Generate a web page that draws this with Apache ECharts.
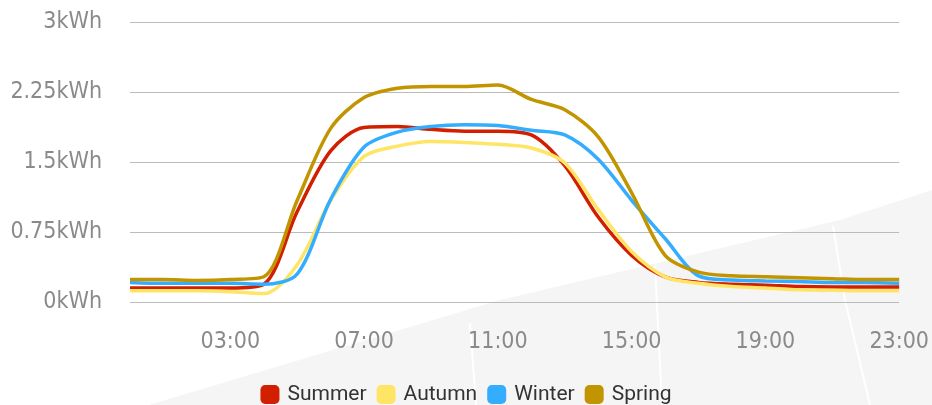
<!DOCTYPE html>
<html>
<head>
<meta charset="utf-8">
<script src="https://cdn.jsdelivr.net/npm/echarts@6/dist/echarts.min.js"></script>
<style>
  html, body { margin: 0; padding: 0; background: #ffffff; }
  #chart { width: 932px; height: 405px; }
</style>
</head>
<body>
<div id="chart"></div>
<script>
var hours = ['00:00','01:00','02:00','03:00','04:00','05:00','06:00','07:00','08:00','09:00','10:00','11:00',
             '12:00','13:00','14:00','15:00','16:00','17:00','18:00','19:00','20:00','21:00','22:00','23:00'];
var summer = [0.15,0.15,0.15,0.15,0.19,0.97,1.62,1.87,1.88,1.85,1.83,1.83,1.79,1.46,0.91,0.50,0.27,0.21,0.19,0.18,0.165,0.16,0.16,0.16];
var autumn = [0.12,0.12,0.12,0.11,0.09,0.40,1.09,1.56,1.67,1.72,1.71,1.69,1.65,1.49,0.99,0.54,0.27,0.20,0.165,0.15,0.13,0.125,0.12,0.12];
var winter = [0.21,0.20,0.20,0.20,0.19,0.30,1.10,1.66,1.82,1.88,1.90,1.89,1.84,1.79,1.53,1.09,0.68,0.28,0.235,0.225,0.22,0.21,0.21,0.20];
var spring = [0.24,0.24,0.23,0.24,0.27,1.09,1.86,2.19,2.29,2.31,2.31,2.325,2.17,2.06,1.77,1.17,0.50,0.32,0.28,0.27,0.26,0.25,0.24,0.24];
var seriesNames = ['Summer','Autumn','Winter','Spring'];
var seriesColors = ['#d21f00','#ffe566','#35adff','#c29500'];
var yTicks = [0, 0.75, 1.5, 2.25, 3];

var chart = echarts.init(document.getElementById('chart'), null, {renderer: 'canvas'});
var dataSets = [summer, autumn, winter, spring];
var axisFont = "'DejaVu Sans Condensed', 'Open Sans', sans-serif";

var option = {
  animation: false,
  backgroundColor: '#ffffff',
  color: seriesColors,
  graphic: [
    { type: 'polygon', z: -10, silent: true,
      shape: { points: [[149,405],[500,300],[700,253],[840,220],[932,190],[932,405]] },
      style: { fill: '#f5f5f5' } },
    { type: 'polyline', z: -9, silent: true,
      shape: { points: [[470,323],[476,405]] }, style: { stroke: '#ffffff', lineWidth: 2, fill: null } },
    { type: 'polyline', z: -9, silent: true,
      shape: { points: [[655,266],[662,405]] }, style: { stroke: '#ffffff', lineWidth: 2, fill: null } },
    { type: 'polyline', z: -9, silent: true,
      shape: { points: [[833,226],[845,300],[870,405]] }, style: { stroke: '#ffffff', lineWidth: 2, fill: null } }
  ],
  grid: { left: 130, right: 32, top: 22, bottom: 103, containLabel: false },
  legend: {
    data: seriesNames,
    top: 379,
    left: 'center',
    icon: 'roundRect',
    itemWidth: 19,
    itemHeight: 19,
    itemGap: 10,
    textStyle: { fontFamily: 'Roboto, sans-serif', fontSize: 21, color: '#333333', padding: [0,0,0,3] }
  },
  xAxis: {
    type: 'category',
    data: hours,
    boundaryGap: false,
    axisLine: { show: false },
    axisTick: { show: false },
    splitLine: { show: false },
    axisLabel: {
      interval: function (idx) { return idx % 4 === 3; },
      color: '#8a8a8a',
      fontFamily: axisFont,
      fontSize: 23,
      margin: 29
    }
  },
  yAxis: {
    type: 'value',
    min: yTicks[0],
    max: yTicks[yTicks.length - 1],
    interval: yTicks[1] - yTicks[0],
    axisLine: { show: false },
    axisTick: { show: false },
    splitLine: { lineStyle: { color: '#bbbbbb', width: 1 } },
    axisLabel: {
      formatter: function (v) { return v + 'kWh'; },
      color: '#8a8a8a',
      fontFamily: axisFont,
      fontSize: 23,
      margin: 28
    }
  },
  series: seriesNames.map(function (name, i) {
    return {
      name: name,
      type: 'line',
      data: dataSets[i],
      smooth: 0.3,
      symbol: 'none',
      lineStyle: { width: 3.5, color: seriesColors[i] },
      itemStyle: { color: seriesColors[i] }
    };
  })
};
chart.setOption(option);
</script>
</body>
</html>
